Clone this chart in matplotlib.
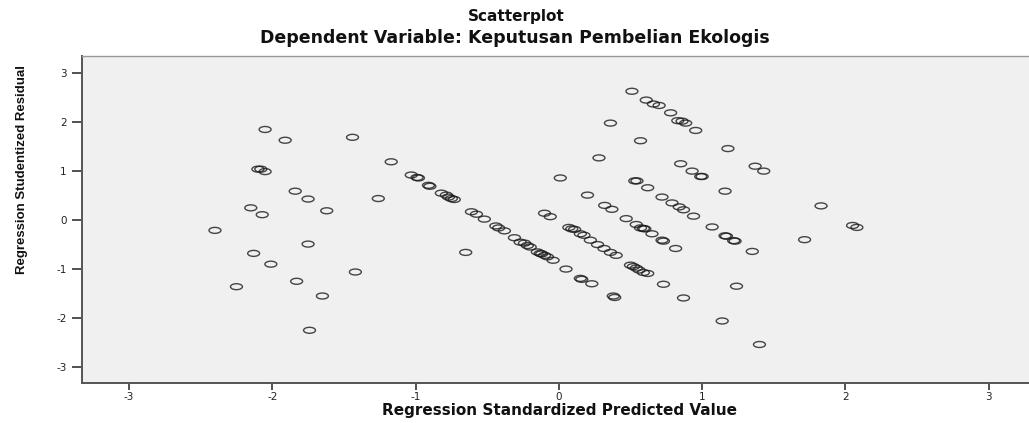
import numpy as np
import matplotlib
matplotlib.use("Agg")
import matplotlib.pyplot as plt
from matplotlib.path import Path
from matplotlib.transforms import Affine2D

# Regression standardized predicted value (x) and studentized residual (y)
pred = [
    -2.05, -1.91, -1.44, -2.10, -2.08, -2.05, -1.84, -1.75, -1.62, -1.26,
    -2.15, -2.07, -2.40, -1.75, -2.13, -2.01, -1.42, -1.83, -2.25, -1.65,
    -1.74, -0.65,
    # band 1
    -1.17, -1.03, -0.99, -0.98, -0.91, -0.90, -0.82, -0.785, -0.77, -0.75,
    -0.73, -0.61, -0.575, -0.52, -0.44, -0.42, -0.38, -0.31, -0.27, -0.24,
    -0.22, -0.20, -0.15, -0.13, -0.12, -0.10, -0.08, -0.04, 0.05, 0.15,
    0.16, 0.23, 0.38, 0.39,
    # band 2
    0.01, -0.10, -0.06, 0.20, 0.32, 0.37, 0.07, 0.09, 0.11, 0.15,
    0.175, 0.22, 0.27, 0.315, 0.36, 0.40, 0.47, 0.54, 0.57, 0.59,
    0.60, 0.65, 0.72, 0.73, 0.815, 0.50, 0.52, 0.54, 0.56, 0.59,
    0.62, 0.73, 0.87,
    # band 3
    0.51, 0.61, 0.66, 0.70, 0.78, 0.83, 0.86, 0.885, 0.955, 0.36,
    0.57, 0.28, 1.18, 0.85, 0.93, 0.99, 1.00, 1.16, 1.37, 1.43,
    0.53, 0.545, 0.62, 0.72, 0.79, 0.84, 0.87, 0.94, 1.07, 1.16,
    1.17, 1.22, 1.23, 1.35, 1.24, 1.14, 1.40,
    # right
    1.83, 1.715, 2.05, 2.08,
]
resid = [
    1.84, 1.62, 1.68, 1.03, 1.03, 0.98, 0.58, 0.42, 0.18, 0.43,
    0.24, 0.10, -0.22, -0.50, -0.69, -0.91, -1.07, -1.26, -1.37, -1.56,
    -2.26, -0.67,
    1.18, 0.91, 0.86, 0.85, 0.70, 0.68, 0.54, 0.50, 0.46, 0.43,
    0.41, 0.16, 0.11, 0.01, -0.13, -0.17, -0.23, -0.37, -0.46, -0.48,
    -0.53, -0.56, -0.66, -0.69, -0.70, -0.73, -0.76, -0.83, -1.01, -1.20,
    -1.22, -1.31, -1.56, -1.59,
    0.85, 0.13, 0.06, 0.50, 0.29, 0.21, -0.16, -0.19, -0.20, -0.29,
    -0.32, -0.42, -0.51, -0.59, -0.67, -0.73, 0.02, -0.10, -0.17, -0.18,
    -0.19, -0.29, -0.42, -0.44, -0.59, -0.93, -0.96, -0.99, -1.03, -1.08,
    -1.10, -1.32, -1.60,
    2.62, 2.44, 2.36, 2.33, 2.18, 2.02, 2.01, 1.97, 1.82, 1.97,
    1.61, 1.26, 1.45, 1.14, 0.99, 0.88, 0.88, 0.58, 1.09, 0.99,
    0.79, 0.79, 0.65, 0.46, 0.34, 0.26, 0.20, 0.07, -0.15, -0.33,
    -0.34, -0.43, -0.44, -0.65, -1.36, -2.07, -2.55,
    0.28, -0.41, -0.12, -0.16,
]
ticks = [-3, -2, -1, 0, 1, 2, 3]

W, H = 1029, 423
fig = plt.figure(figsize=(W / 100, H / 100), dpi=100)
fig.patch.set_facecolor("white")

left, right, top, bottom = 81.7, 1036.0, 56.0, 382.7
ax = fig.add_axes([left / W, 1 - bottom / H, (right - left) / W, (bottom - top) / H])
ax.set_facecolor("#f0f0f0")

ell = Path.unit_circle().transformed(Affine2D().scale(1.0, 0.5))
ax.scatter(pred, resid, marker=ell, s=8.6 ** 2, facecolors="none",
           edgecolors="#1a1a1a", linewidths=1.0, alpha=0.8, zorder=3)

ax.set_xlim(-3.33, 3.33)
ax.set_ylim(-3.33, 3.34)
ax.set_xticks(ticks)
ax.set_yticks(ticks)
ax.set_xticklabels([str(t) for t in ticks])
ax.set_yticklabels([str(t) for t in ticks])
ax.tick_params(axis="x", direction="out", length=5, width=1.2, color="#333333",
               labelsize=7.5, pad=1.5, labelcolor="#222222")
ax.tick_params(axis="y", direction="out", length=7, width=1.2, color="#333333",
               labelsize=7.5, pad=4, labelcolor="#222222")
for s in ["left", "bottom"]:
    ax.spines[s].set_color("#555555")
    ax.spines[s].set_linewidth(1.4)
for s in ["top", "right"]:
    ax.spines[s].set_color("#999999")
    ax.spines[s].set_linewidth(1.0)

bold = dict(family="DejaVu Sans", weight="bold", color="#111111")
fig.text(516 / W, 1 - 16 / H, "Scatterplot", ha="center", va="center", fontsize=11, **bold)
fig.text(515 / W, 1 - 38 / H, "Dependent Variable: Keputusan Pembelian Ekologis",
         ha="center", va="center", fontsize=12.5, **bold)
fig.text(559 / W, 1 - 410 / H, "Regression Standardized Predicted Value",
         ha="center", va="center", fontsize=11, **bold)
fig.text(22 / W, 1 - 169 / H, "Regression Studentized Residual", rotation=90,
         ha="center", va="center", fontsize=9.5,
         family=["Liberation Sans Narrow", "Liberation Sans", "DejaVu Sans"],
         weight="bold", color="#111111")

fig.savefig("out.png", dpi=100)
